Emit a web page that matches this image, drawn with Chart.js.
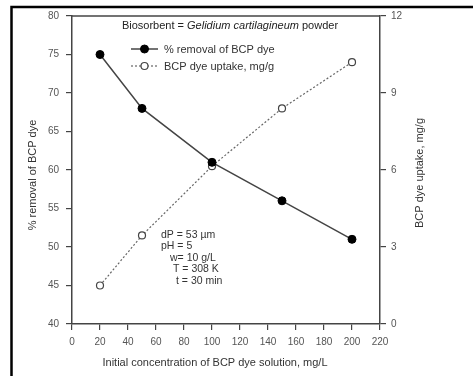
<!DOCTYPE html>
<html>
<head>
<meta charset="utf-8">
<script src="https://cdn.jsdelivr.net/npm/chart.js@4.4.0/dist/chart.umd.min.js"></script>
<style>
    html, body { margin: 0; padding: 0; background: #fff; }
    #wrap { width: 473px; height: 376px; }
</style>
</head>
<body>
<div id="wrap"><canvas id="chart" width="473" height="376"></canvas></div>
<script>
// Data
const concentration = [20, 50, 100, 150, 200];
const removalPct = [75, 68, 61, 56, 51];
const dyeUptake = [1.5, 3.45, 6.15, 8.4, 10.2];

const xTicks = [0, 20, 40, 60, 80, 100, 120, 140, 160, 180, 200, 220];
const leftTicks = [40, 45, 50, 55, 60, 65, 70, 75, 80];
const rightTicks = [0, 3, 6, 9, 12];

const seriesNames = ['% removal of BCP dye', 'BCP dye uptake, mg/g'];
const conditions = ['dP = 53 \u00b5m', 'pH = 5', 'w= 10 g/L', 'T = 308 K', 't = 30 min'];

const FONT = '"Liberation Sans", Arial, sans-serif';
const TEXT = '#333';

// Extra drawing: figure frame, plot box top, legend, labels
const decorations = {
    id: 'decorations',
    beforeDraw(chart) {
        const ctx = chart.ctx;
        ctx.save();
        ctx.strokeStyle = '#000';
        ctx.lineWidth = 2.5;
        ctx.beginPath();
        ctx.moveTo(11.5, 376);
        ctx.lineTo(11.5, 7);
        ctx.lineTo(473, 7);
        ctx.stroke();
        ctx.restore();
    },
    afterDraw(chart) {
        const ctx = chart.ctx;
        const area = chart.chartArea;
        ctx.save();

        // top edge of the plot box
        ctx.strokeStyle = '#444';
        ctx.lineWidth = 1.5;
        ctx.beginPath();
        ctx.moveTo(area.left, area.top);
        ctx.lineTo(area.right, area.top);
        ctx.stroke();

        // title inside the plot
        ctx.fillStyle = '#222';
        ctx.textBaseline = 'middle';
        const parts = [
            ['Biosorbent = ', 'normal'],
            ['Gelidium cartilagineum', 'italic'],
            [' powder', 'normal']
        ];
        let widths = parts.map(p => {
            ctx.font = p[1] + ' 11px ' + FONT;
            return ctx.measureText(p[0]).width;
        });
        let x = 230 - widths.reduce((a, b) => a + b, 0) / 2;
        parts.forEach((p, i) => {
            ctx.font = p[1] + ' 11px ' + FONT;
            ctx.textAlign = 'left';
            ctx.fillText(p[0], x, 25.5);
            x += widths[i];
        });

        // legend
        const rows = [49, 66];
        chart.data.datasets.forEach((ds, i) => {
            const y = rows[i];
            ctx.strokeStyle = ds.borderColor;
            ctx.lineWidth = ds.borderWidth;
            ctx.setLineDash(ds.borderDash || []);
            ctx.beginPath();
            ctx.moveTo(131, y);
            ctx.lineTo(158, y);
            ctx.stroke();
            ctx.setLineDash([]);
            ctx.beginPath();
            ctx.arc(144.5, y, ds.pointRadius, 0, Math.PI * 2);
            ctx.fillStyle = ds.pointBackgroundColor;
            ctx.fill();
            ctx.lineWidth = ds.pointBorderWidth;
            ctx.strokeStyle = ds.pointBorderColor;
            ctx.stroke();
            ctx.fillStyle = TEXT;
            ctx.font = '11px ' + FONT;
            ctx.textAlign = 'left';
            ctx.fillText(seriesNames[i], 164, y + 0.5);
        });

        // experimental conditions
        const condX = [161, 161, 170, 173, 176];
        const condY = [235, 246, 258, 269, 281];
        ctx.font = '10.5px ' + FONT;
        ctx.fillStyle = TEXT;
        conditions.forEach((t, i) => ctx.fillText(t, condX[i], condY[i]));

        // axis titles
        ctx.font = '11px ' + FONT;
        ctx.textAlign = 'center';
        ctx.fillText('Initial concentration of BCP dye solution, mg/L', 215, 363);

        ctx.save();
        ctx.translate(33, 175);
        ctx.rotate(-Math.PI / 2);
        ctx.fillText('% removal of BCP dye', 0, 0);
        ctx.restore();

        ctx.save();
        ctx.translate(420, 173);
        ctx.rotate(-Math.PI / 2);
        ctx.fillText('BCP dye uptake, mg/g', 0, 0);
        ctx.restore();

        ctx.restore();
    }
};

const axisGrid = {
    drawOnChartArea: false,
    drawTicks: true,
    tickLength: 6,
    color: '#444',
    lineWidth: 1.2
};
const axisBorder = { display: true, color: '#444', width: 1.5 };
const tickFont = { family: FONT, size: 10 };

new Chart(document.getElementById('chart').getContext('2d'), {
    type: 'line',
    data: {
        datasets: [{
            label: seriesNames[0],
            data: concentration.map((c, i) => ({ x: c, y: removalPct[i] })),
            yAxisID: 'y',
            borderColor: '#444',
            borderWidth: 1.5,
            pointRadius: 4,
            pointBackgroundColor: '#000',
            pointBorderColor: '#000',
            pointBorderWidth: 1,
            tension: 0
        }, {
            label: seriesNames[1],
            data: concentration.map((c, i) => ({ x: c, y: dyeUptake[i] })),
            yAxisID: 'y1',
            borderColor: '#666',
            borderWidth: 1.2,
            borderDash: [2, 2],
            pointRadius: 3.5,
            pointBackgroundColor: '#fff',
            pointBorderColor: '#444',
            pointBorderWidth: 1.2,
            tension: 0
        }]
    },
    options: {
        responsive: false,
        devicePixelRatio: 1,
        animation: false,
        layout: { padding: { top: 16, left: 0, right: 0, bottom: 0 } },
        plugins: {
            legend: { display: false },
            tooltip: { enabled: false }
        },
        scales: {
            x: {
                type: 'linear',
                min: 0,
                max: 220,
                afterBuildTicks: s => { s.ticks = xTicks.map(v => ({ value: v })); },
                afterFit: s => { s.height = 52; },
                grid: axisGrid,
                border: axisBorder,
                ticks: { color: '#555', font: tickFont, padding: 6, maxRotation: 0 }
            },
            y: {
                position: 'left',
                min: 40,
                max: 80,
                afterBuildTicks: s => { s.ticks = leftTicks.map(v => ({ value: v })); },
                afterFit: s => { s.width = 72; },
                grid: axisGrid,
                border: axisBorder,
                ticks: { color: '#555', font: tickFont, padding: 7 }
            },
            y1: {
                position: 'right',
                min: 0,
                max: 12,
                afterBuildTicks: s => { s.ticks = rightTicks.map(v => ({ value: v })); },
                afterFit: s => { s.width = 93; },
                grid: axisGrid,
                border: axisBorder,
                ticks: { color: '#555', font: tickFont, padding: 5 }
            }
        }
    },
    plugins: [decorations]
});
</script>
</body>
</html>
